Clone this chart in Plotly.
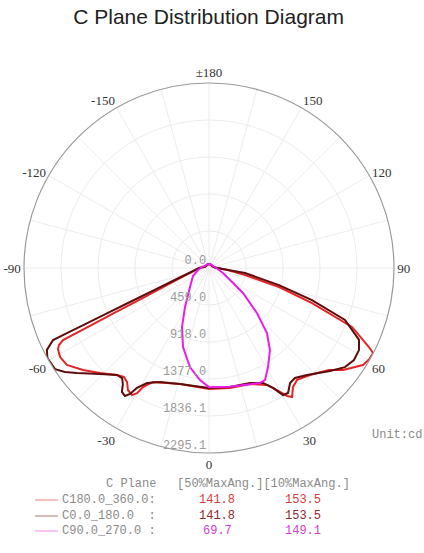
import plotly.graph_objects as go

W, H = 424, 553

# ---- data (gamma angle in degrees, luminous intensity in cd) ----
red_theta = [-180, -150, -120, -100, -91, -77.6, -70.0, -66.7, -65.3, -64.6, -64.1, -63.7, -62.8, -61.8,
             -59.1, -55.7, -51.0, -46.1, -40.7, -38.0, -35.7, -33.6, -31.2, -29.9, -29.0, -26.2, -14.0,
             0, 9.9, 19.5, 26.4, 29.1, 31.4, 32.8, 35.2, 38.2, 43.3, 49.6, 52.7, 57.8, 60.6, 62.6,
             63.7, 67.6, 71.2, 74.8, 79.0, 85, 95, 120, 150, 180]
red_cd = [50, 45, 45, 60, 110, 208, 407, 708, 1010, 1313, 1616, 2020, 2092, 2126,
          2153, 2134, 2011, 1877, 1751, 1715, 1742, 1817, 1843, 1790, 1688, 1576, 1484,
          1501, 1511, 1526, 1620, 1733, 1860, 1903, 1807, 1767, 1825, 1954, 2089, 2258, 2290, 2292,
          2213, 1919, 1350, 900, 455, 200, 80, 45, 45, 50]

dark_theta = [-180, -150, -120, -100, -91.2, -78.3, -71.1, -68.0, -66.7, -66.0, -65.6, -65.4, -65.2, -63.2,
              -60.9, -59.3, -56.7, -54.2, -51.5, -45.8, -40.7, -38.3, -36.6, -35.1, -33.3, -32.1, -31.0,
              -28.3, -23.3, -14.0, 0, 10.0, 19.6, 25.2, 28.1, 30.2, 32.3, 35.2, 38.0, 42.5, 49.6, 53.9,
              57.6, 61.3, 64.4, 69.1, 72.7, 76.3, 82.1, 86, 95, 120, 150, 180]
dark_cd = [50, 45, 45, 60, 120, 220, 430, 748, 1067, 1386, 1706, 1918, 2131, 2253,
           2295, 2290, 2285, 2204, 2093, 1886, 1751, 1740, 1792, 1879, 1899, 1845, 1736,
           1621, 1539, 1484, 1489, 1499, 1515, 1576, 1687, 1824, 1835, 1745, 1732, 1800, 1971, 2087,
           2130, 2121, 2064, 1806, 1338, 894, 451, 170, 70, 45, 45, 50]

mag_theta = [-180, -150, -120, -100, -79.7, -63.4, -45, -31.6, -24.6, -18.2, -10.9, -4.6, 0, 10.0,
             23.9, 26.6, 30.8, 36.6, 41.7, 46.8, 53.7, 60.3, 70.3, 99.5, 120, 150, 180]
mag_cd = [50, 50, 55, 85, 139, 222, 333, 568, 805, 1032, 1251, 1394, 1478, 1497,
          1561, 1553, 1430, 1268, 1081, 816, 523, 300, 184, 75, 55, 50, 50]

series_names = ["C180.0_360.0:", "C0.0_180.0  :", "C90.0_270.0 :"]
series_colors = ["#e42525", "#5e0c0c", "#e81ee8"]
legend_line_colors = ["#ee8080", "#b07878", "#ee88ee"]
value_colors = ["#d93a3a", "#8a2a2a", "#d040d0"]
half_max_ang = ["141.8", "141.8", "69.7"]
tenth_max_ang = ["153.5", "153.5", "149.1"]

r_max = 2295.1
r_tickvals = [0, 459.02, 918.04, 1377.06, 1836.08, 2295.1]
r_ticktext = ["0.0", "459.0", "918.0", "1377.0", "1836.1", "2295.1"]

a_tickvals = list(range(0, 360, 15))
a_labels = {0: "0", 30: "30", 60: "60", 90: "90", 120: "120", 150: "150", 180: "±180",
            210: "-150", 240: "-120", 270: "-90", 300: "-60", 330: "-30"}
a_ticktext = [a_labels.get(v, "") for v in a_tickvals]

fig = go.Figure()
for th, rv, c in [(red_theta, red_cd, series_colors[0]),
                  (dark_theta, dark_cd, series_colors[1]),
                  (mag_theta, mag_cd, series_colors[2])]:
    fig.add_trace(go.Scatterpolar(theta=th, r=rv, mode="lines",
                                  line=dict(color=c, width=2), hoverinfo="skip"))

cx, cy, R = 209, 268, 185
fig.update_layout(
    width=W, height=H, margin=dict(l=0, r=0, t=0, b=0),
    paper_bgcolor="white", showlegend=False,
    title=dict(text="C Plane Distribution Diagram", x=0.492, xanchor="center",
               y=1 - 17 / H, yanchor="middle",
               font=dict(family="Liberation Sans", size=21, color="#222")),
    polar=dict(
        domain=dict(x=[(cx - R) / W, (cx + R) / W], y=[(H - cy - R) / H, (H - cy + R) / H]),
        bgcolor="white",
        angularaxis=dict(rotation=-90, direction="counterclockwise",
                         tickmode="array", tickvals=a_tickvals, ticktext=a_ticktext,
                         showline=True, linecolor="#9a9a9a", linewidth=1.2,
                         gridcolor="#ececec", ticks="",
                         tickfont=dict(family="Liberation Serif", size=13, color="#333")),
        radialaxis=dict(range=[0, r_max], tickmode="array", tickvals=r_tickvals,
                        ticktext=[t + "<br> " for t in r_ticktext],
                        showline=False, ticks="", gridcolor="#ececec", angle=-90, tickangle=-90,
                        side="clockwise",
                        tickfont=dict(family="Liberation Mono", size=12, color="#9a9a9a")),
    ),
)

ann_font = dict(family="Liberation Mono", size=12, color="#8a8a8a")
def px(x):
    return x / W
def py(y):
    return 1 - y / H

anns = [
    dict(text="Unit:cd", x=px(370), y=py(435), xanchor="left", font=ann_font),
    dict(text="C Plane", x=px(158), y=py(484), xanchor="right", font=ann_font),
    dict(text="[50%MaxAng.][10%MaxAng.]", x=px(175), y=py(484), xanchor="left", font=ann_font),
]
row_y = [500, 516, 531]
shapes = []
for i in range(3):
    anns.append(dict(text=series_names[i], x=px(158), y=py(row_y[i]), xanchor="right", font=ann_font))
    anns.append(dict(text=half_max_ang[i], x=px(217), y=py(row_y[i]), xanchor="center",
                     font=dict(family="Liberation Mono", size=12, color=value_colors[i])))
    anns.append(dict(text=tenth_max_ang[i], x=px(303), y=py(row_y[i]), xanchor="center",
                     font=dict(family="Liberation Mono", size=12, color=value_colors[i])))
    shapes.append(dict(type="line", xref="paper", yref="paper", x0=px(35), x1=px(58),
                       y0=py(row_y[i]), y1=py(row_y[i]),
                       line=dict(color=legend_line_colors[i], width=1)))
for a in anns:
    a.update(xref="paper", yref="paper", showarrow=False, yanchor="middle")
fig.update_layout(annotations=anns, shapes=shapes)

fig.write_html("out.html", config={"displayModeBar": False},
               post_script="document.body.style.margin='0px';")
